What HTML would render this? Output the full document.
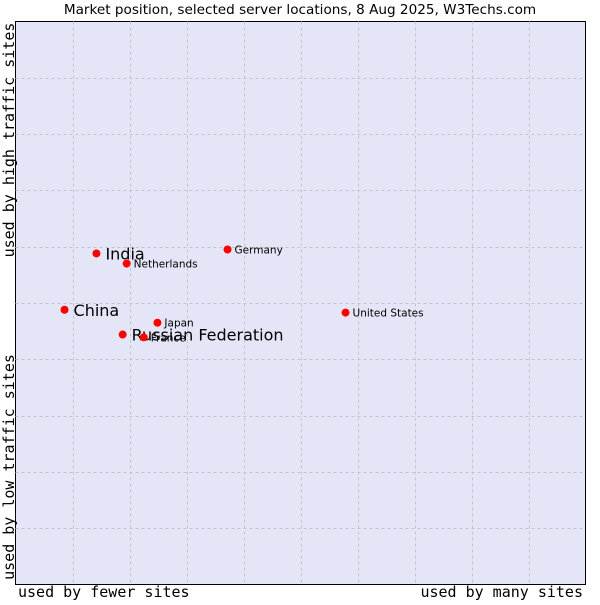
<!DOCTYPE html>
<html><head><meta charset="utf-8"><style>
body{margin:0;background:#fff;}
svg text{font-family:"DejaVu Sans","Liberation Sans",sans-serif;fill:#000;}
.ax{font-family:"DejaVu Sans Mono","Liberation Mono",monospace !important;font-size:15px;}
</style></head><body>
<svg id="chart" width="600" height="600">
<text x="300" y="14" text-anchor="middle" font-size="13.6">Market position, selected server locations, 8 Aug 2025, W3Techs.com</text>
<rect x="15.5" y="21.5" width="570" height="563" fill="#e4e5f7" stroke="#000" stroke-width="1"/>
<g id="grid"></g>
<g id="points"></g>
<text class="ax" transform="translate(14,140) rotate(-90)" text-anchor="middle">used by high traffic sites</text>
<text class="ax" transform="translate(14,467) rotate(-90)" text-anchor="middle">used by low traffic sites</text>
<text class="ax" x="18" y="597">used by fewer sites</text>
<text class="ax" x="583" y="597" text-anchor="end">used by many sites</text>
</svg>
<script>
const countries=["India","Netherlands","Germany","China","Japan","Russian Federation","France","United States"];
const xValues=[14.2,19.5,37.2,8.6,24.9,18.8,22.5,57.9];
const yValues=[58.8,57.0,59.5,48.8,46.5,44.4,43.9,48.3];
const bigLabel=[true,false,false,true,false,true,false,false];
const gridTicks=[10,20,30,40,50,60,70,80,90];
const L=15.5,R=585.5,T=21.5,B=584.5;
const xs=v=>L+v/100*(R-L);
const ys=v=>B-v/100*(B-T);
const NS="http://www.w3.org/2000/svg";
const grid=document.getElementById('grid');
gridTicks.forEach(t=>{
  const v=document.createElementNS(NS,'line');
  v.setAttribute('x1',Math.round(xs(t))+0.5);v.setAttribute('x2',Math.round(xs(t))+0.5);
  v.setAttribute('y1',T);v.setAttribute('y2',B);
  v.setAttribute('stroke','#c4c4c4');v.setAttribute('stroke-dasharray','3,3');
  
  
  grid.appendChild(v);
  const h=document.createElementNS(NS,'line');
  h.setAttribute('y1',Math.round(ys(t))+0.5);h.setAttribute('y2',Math.round(ys(t))+0.5);
  h.setAttribute('x1',L);h.setAttribute('x2',R);
  h.setAttribute('stroke','#c4c4c4');h.setAttribute('stroke-dasharray','3,3');
  
  
  grid.appendChild(h);
});
const pts=document.getElementById('points');
countries.forEach((c,i)=>{
  const x=xs(xValues[i]),y=ys(yValues[i]);
  const m=document.createElementNS(NS,'circle');
  m.setAttribute('cx',x);m.setAttribute('cy',y);m.setAttribute('r',4);m.setAttribute('fill','#f00');
  
  
  pts.appendChild(m);
  const t=document.createElementNS(NS,'text');
  t.setAttribute('x',x+(bigLabel[i]?9:7));
  t.setAttribute('y',y+(bigLabel[i]?6:4));
  t.setAttribute('font-size',bigLabel[i]?16:10.5);
  t.textContent=c;
  
  
  pts.appendChild(t);
});
</script>
</body></html>
